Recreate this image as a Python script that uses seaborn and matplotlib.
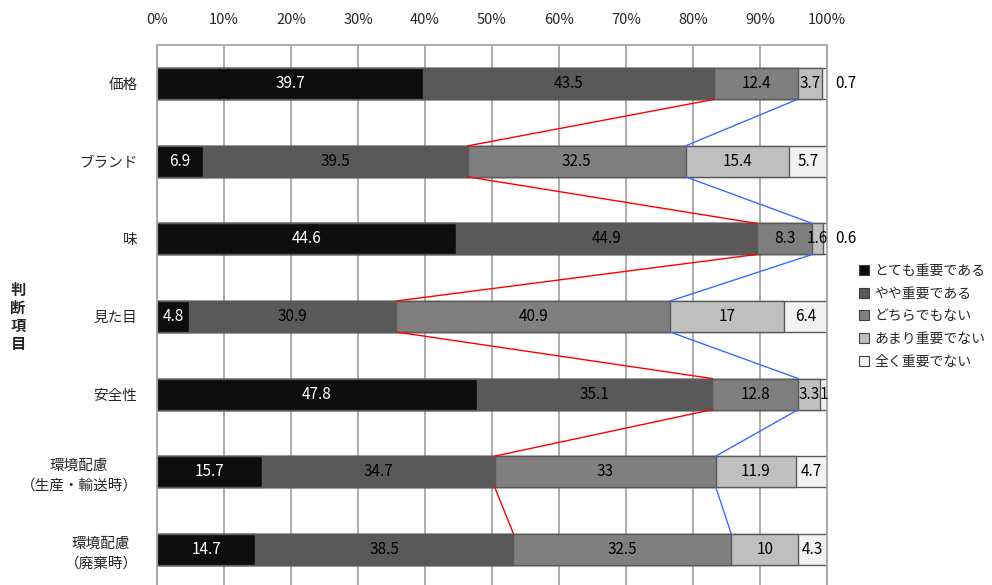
import numpy as np
import matplotlib
matplotlib.use("Agg")
import matplotlib.pyplot as plt
from matplotlib.lines import Line2D
import seaborn as sns

# Survey: how important each factor is when choosing a product (%)
categories = ["価格", "ブランド", "味", "見た目", "安全性",
              "環境配慮\n（生産・輸送時）", "環境配慮\n（廃棄時）"]
series_names = ["とても重要である", "やや重要である", "どちらでもない",
                "あまり重要でない", "全く重要でない"]
very_important = [39.7, 6.9, 44.6, 4.8, 47.8, 15.7, 14.7]
somewhat_important = [43.5, 39.5, 44.9, 30.9, 35.1, 34.7, 38.5]
neutral = [12.4, 32.5, 8.3, 40.9, 12.8, 33, 32.5]
not_very_important = [3.7, 15.4, 1.6, 17, 3.3, 11.9, 10]
not_important = [0.7, 5.7, 0.6, 6.4, 1, 4.7, 4.3]
x_ticks = [0, 10, 20, 30, 40, 50, 60, 70, 80, 90, 100]
x_tick_labels = [f"{t}%" for t in x_ticks]

colors = ["#0d0d0d", "#595959", "#7f7f7f", "#bfbfbf", "#f2f2f2"]
text_colors = ["white", "black", "black", "black", "black"]

sns.set_style("white")
plt.rcParams["font.family"] = ["Noto Sans CJK JP", "DejaVu Sans"]

values = np.array([very_important, somewhat_important, neutral,
                   not_very_important, not_important]).T
cum = np.cumsum(values, axis=1)
starts = cum - values

fig = plt.figure(figsize=(9.92, 5.85), dpi=100)
ax = fig.add_axes([157 / 992, -3 / 585, 670 / 992, 543 / 585])

bar_w = 0.4
# Stacked bars: draw cumulative totals from the outermost layer inwards
for k in range(4, -1, -1):
    sns.barplot(x=cum[:, k], y=categories, order=categories, orient="h",
                color=colors[k], saturation=1, width=bar_w,
                edgecolor="#5a5a5a", linewidth=1.0, ax=ax, zorder=2)

# Segment value labels
for i in range(len(categories)):
    for k in range(5):
        v = values[i, k]
        if v < 1:
            ax.text(101.2, i, f"{v:g}", ha="left", va="center",
                    fontsize=11, color="black", zorder=5)
        else:
            ax.text(starts[i, k] + v / 2, i, f"{v:g}", ha="center",
                    va="center", fontsize=11, color=text_colors[k], zorder=5)

# Series lines joining the boundaries of adjacent bars
ypos = np.arange(len(categories))
for col, lc in [(1, "#ff0000"), (2, "#3a6bff")]:
    for i in range(len(categories) - 1):
        ax.plot([cum[i, col], cum[i + 1, col]],
                [ypos[i] + bar_w / 2, ypos[i + 1] - bar_w / 2],
                color=lc, linewidth=1.0, zorder=4)

ax.set_xlim(0, 100)
ax.set_ylim(len(categories) - 0.5, -0.5)
ax.set_xticks(x_ticks)
ax.set_xticklabels(x_tick_labels, fontsize=10.5)
ax.xaxis.tick_top()
ax.tick_params(axis="x", length=0, pad=13)
ax.tick_params(axis="y", which="major", length=0, pad=14, labelsize=10.5)
for lbl in ax.get_yticklabels():
    lbl.set_multialignment("center")
    lbl.set_linespacing(1.5)
ax.set_yticks(np.arange(len(categories)) + 0.5, minor=True)
ax.tick_params(axis="y", which="minor", direction="in", length=5,
               color="#a6a6a6", width=1)
ax.set_xlabel("")
ax.set_ylabel("")

ax.set_axisbelow(True)
ax.grid(axis="x", color="#a6a6a6", linewidth=1.3, zorder=0)
ax.grid(axis="y", visible=False)
for side in ["top", "left", "right", "bottom"]:
    ax.spines[side].set_color("#a6a6a6")
    ax.spines[side].set_linewidth(1.3)

# Vertical axis title
fig.text(18 / 992, 1 - 317 / 585, "\n".join("判断項目"), ha="center",
         va="center", fontsize=11, fontweight="bold", linespacing=1.15)

handles = [Line2D([0], [0], marker="s", linestyle="none", markersize=7,
                  markerfacecolor=c, markeredgecolor="#404040",
                  markeredgewidth=0.8) for c in colors]
fig.legend(handles, series_names, loc="upper left",
           bbox_to_anchor=(858 / 992, 1 - 264 / 585), frameon=False,
           fontsize=10, handlelength=0.8, handletextpad=0.4,
           labelspacing=0.62, borderpad=0, borderaxespad=0)

fig.savefig("out.png", dpi=100)
